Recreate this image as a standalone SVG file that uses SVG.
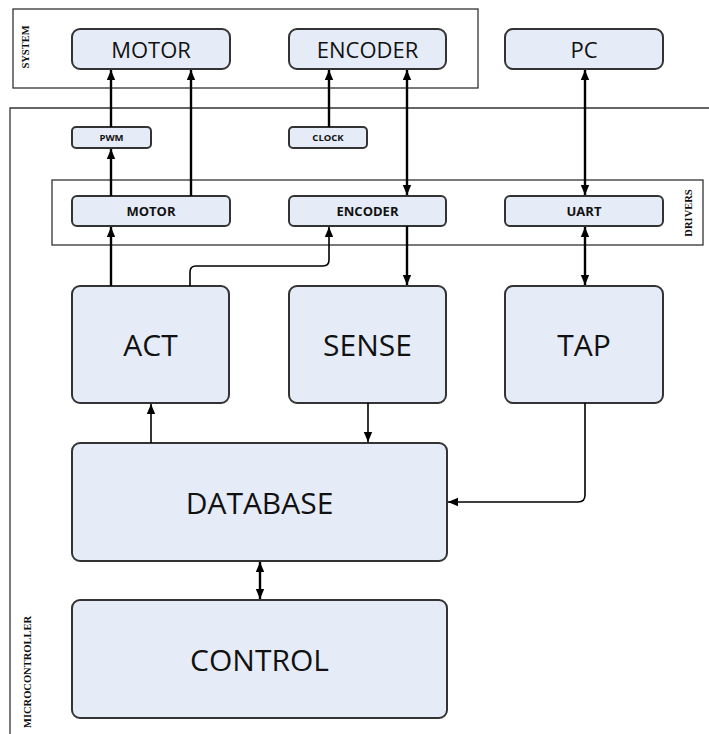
<svg xmlns="http://www.w3.org/2000/svg" width="709" height="734" viewBox="0 0 709 734">
<style>
.box{fill:#E6ECF7;stroke:#333;stroke-width:2}
.frame{fill:none;stroke:#333;stroke-width:1.3}
.t{font-family:"Open Sans","Liberation Sans",sans-serif;fill:#111;text-anchor:middle;dominant-baseline:central}
.big{font-size:30px}
.mid{font-size:22px}
.drv{font-size:13px;font-weight:bold}
.sm{font-size:9.5px;font-weight:bold}
.lab{font-family:"Liberation Serif",serif;font-size:10.5px;font-weight:bold}
.c{fill:none;stroke:#000;stroke-width:2.4}
.ct{fill:none;stroke:#000;stroke-width:1.6}
</style>
<defs>
<marker id="ah" markerUnits="userSpaceOnUse" markerWidth="10" markerHeight="10" viewBox="0 0 10 10" refX="10" refY="5" orient="auto-start-reverse">
<path d="M0,0.8 L10,5 L0,9.2 z" fill="#000"/>
</marker>
</defs>
<g id="system">
<rect class="frame" x="13" y="9" width="465" height="79"/>
<text class="t lab" transform="translate(25,47) rotate(-90)">SYSTEM</text>
</g>
<g id="microcontroller">
<path class="frame" d="M710,108 H10 V740"/>
<text class="t lab" transform="translate(27,672) rotate(-90)">MICROCONTROLLER</text>
</g>
<g id="drivers">
<rect class="frame" x="52" y="180" width="651" height="65"/>
<text class="t lab" transform="translate(688,213) rotate(-90)">DRIVERS</text>
</g>
<g id="sys-motor"><rect class="box" x="72" y="29" width="158" height="40" rx="8"/><text class="t mid" x="151" y="49">MOTOR</text></g>
<g id="sys-encoder"><rect class="box" x="289" y="29" width="157" height="40" rx="8"/><text class="t mid" x="367.5" y="49">ENCODER</text></g>
<g id="pc"><rect class="box" x="505" y="29" width="158" height="40" rx="8"/><text class="t mid" x="584" y="49">PC</text></g>
<g id="pwm"><rect class="box" x="72" y="127" width="79" height="21" rx="4"/><text class="t sm" x="111.5" y="137.5">PWM</text></g>
<g id="clock"><rect class="box" x="289" y="127" width="78" height="21" rx="4"/><text class="t sm" x="328" y="137.5">CLOCK</text></g>
<g id="drv-motor"><rect class="box" x="72" y="196" width="158" height="30" rx="5"/><text class="t drv" x="151" y="211">MOTOR</text></g>
<g id="drv-encoder"><rect class="box" x="289" y="196" width="157" height="30" rx="5"/><text class="t drv" x="367.5" y="211">ENCODER</text></g>
<g id="drv-uart"><rect class="box" x="505" y="196" width="158" height="30" rx="5"/><text class="t drv" x="584" y="211">UART</text></g>
<g id="act"><rect class="box" x="72" y="286" width="157" height="117" rx="8"/><text class="t big" x="150.5" y="344">ACT</text></g>
<g id="sense"><rect class="box" x="289" y="286" width="157" height="117" rx="8"/><text class="t big" x="367.5" y="344">SENSE</text></g>
<g id="tap"><rect class="box" x="505" y="286" width="158" height="117" rx="8"/><text class="t big" x="584" y="344">TAP</text></g>
<g id="database"><rect class="box" x="72" y="443" width="375" height="118" rx="8"/><text class="t big" x="259.5" y="502">DATABASE</text></g>
<g id="control"><rect class="box" x="72" y="600" width="375" height="118" rx="8"/><text class="t big" x="259.5" y="659">CONTROL</text></g>
<g id="connectors">
<path class="c" d="M111,127 V70" marker-end="url(#ah)"/>
<path class="c" d="M111,196 V149" marker-end="url(#ah)"/>
<path class="c" d="M191,196 V70" marker-end="url(#ah)"/>
<path class="c" d="M329,127 V70" marker-end="url(#ah)"/>
<path class="c" d="M407,70 V195" marker-start="url(#ah)" marker-end="url(#ah)"/>
<path class="c" d="M585,70 V195" marker-start="url(#ah)" marker-end="url(#ah)"/>
<path class="c" d="M111,286 V227" marker-end="url(#ah)"/>
<path class="ct" d="M190,286 V272 Q190,266 196,266 H323 Q329,266 329,260 V227" marker-end="url(#ah)"/>
<path class="c" d="M407,226 V285" marker-end="url(#ah)"/>
<path class="c" d="M585,227 V285" marker-start="url(#ah)" marker-end="url(#ah)"/>
<path class="ct" d="M151,443 V404" marker-end="url(#ah)"/>
<path class="ct" d="M368,403 V442" marker-end="url(#ah)"/>
<path class="ct" d="M585,403 V495 Q585,502 578,502 H448" marker-end="url(#ah)"/>
<path class="c" d="M260,562 V599" marker-start="url(#ah)" marker-end="url(#ah)"/>
</g>
</svg>
